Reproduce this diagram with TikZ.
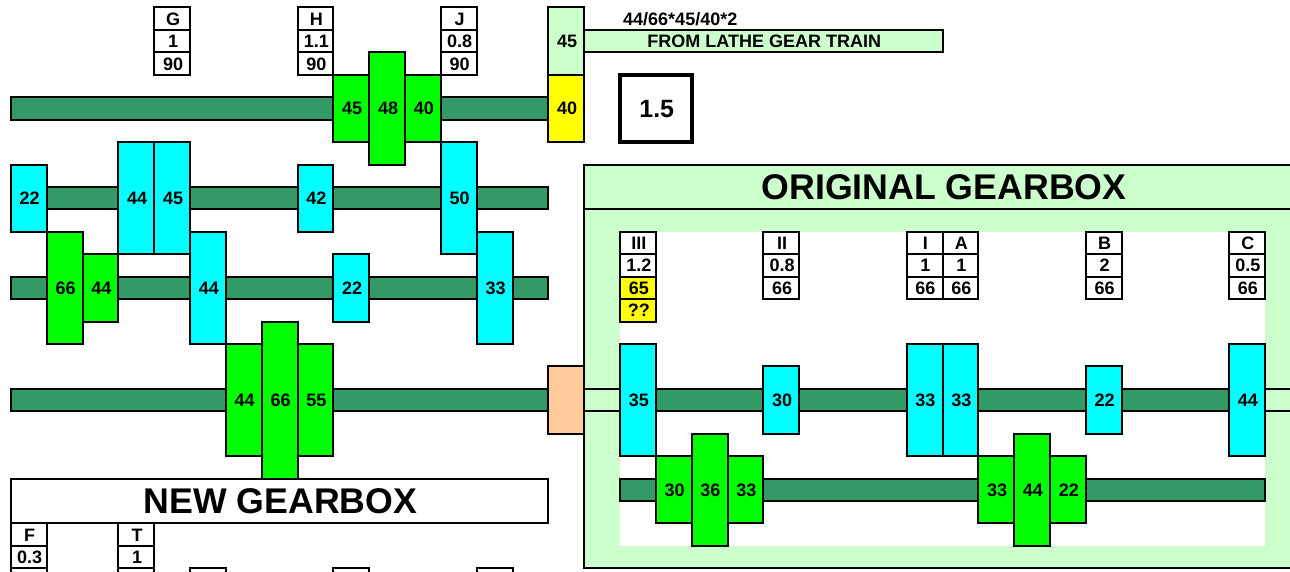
\documentclass[tikz,border=0pt]{standalone}
\usepackage{fontspec}
\setmainfont{Liberation Sans}
\definecolor{shaft}{HTML}{339966}
\definecolor{pale}{HTML}{CCFFCC}
\definecolor{cyang}{HTML}{00FFFF}
\definecolor{greeng}{HTML}{00FF00}
\definecolor{yell}{HTML}{FFFF00}
\definecolor{peach}{HTML}{FFCC99}
\tikzset{
  base/.style={draw=black,line width=2pt,inner sep=0pt,outer sep=0pt,rectangle,
    font=\fontsize{18}{18}\bfseries\selectfont,text height=13pt,text depth=0pt,align=center},
  shaftbar/.style={base,fill=shaft},
  palebar/.style={base,fill=pale},
  cyangear/.style={base,fill=cyang},
  greengear/.style={base,fill=greeng},
  yellowcell/.style={base,fill=yell},
  palegear/.style={base,fill=pale},
  peachcell/.style={base,fill=peach},
  tablecell/.style={base,fill=white},
  ratio/.style={base,fill=white,line width=4.2pt,font=\fontsize{25}{25}\bfseries\selectfont,text height=18pt},
  bigtitle/.style={base,font=\fontsize{35.7}{36}\bfseries\selectfont,text height=26pt},
  whitepanel/.style={rectangle,fill=white,draw=none,inner sep=0pt,outer sep=0pt},
  plainlabel/.style={inner sep=0pt,font=\fontsize{18}{18}\bfseries\selectfont}
}
% \cell{name}{col0}{row0}{col1}{row1}{style}{text}
\newcommand{\cell}[7]{%
  \pgfmathsetmacro{\cellxa}{11+35.83*#2}%
  \pgfmathsetmacro{\cellxb}{11+35.83*#4}%
  \pgfmathsetmacro{\cellya}{7.5+22.43*#3}%
  \pgfmathsetmacro{\cellyb}{7.5+22.43*#5}%
  \pgfmathsetmacro{\cellxm}{(\cellxa+\cellxb)/2}%
  \pgfmathsetmacro{\cellym}{(\cellya+\cellyb)/2}%
  \pgfmathsetmacro{\cellw}{\cellxb-\cellxa}%
  \pgfmathsetmacro{\cellh}{\cellyb-\cellya}%
  \node[#6,minimum width=\cellw pt,minimum height=\cellh pt] (#1) at (\cellxm,\cellym) {\hspace*{1.6pt}#7};%
}
\begin{document}
\begin{tikzpicture}[x=1pt,y=-1pt]
\useasboundingbox (0,0) rectangle (1290,572);
\clip (0,0) rectangle (1290,572);
% original gearbox frame
\cell{origframe}{16}{7}{37}{25}{palebar}{}
\cell{orighead}{16}{7}{37}{9}{palebar}{}
\cell{origpanel}{17}{10}{35}{24}{whitepanel}{}
\node[inner sep=0pt,font=\fontsize{35.7}{36}\bfseries\selectfont] (origtitle) at (944,187.5) {ORIGINAL GEARBOX};
% shafts
\cell{s1}{0}{4}{15}{5}{shaftbar}{}
\cell{s2}{0}{8}{15}{9}{shaftbar}{}
\cell{s3}{0}{12}{15}{13}{shaftbar}{}
\cell{s4}{0}{17}{15}{18}{shaftbar}{}
\cell{s5}{16}{17}{37}{18}{palebar}{}
\cell{s6}{17}{17}{35}{18}{shaftbar}{}
\cell{s7}{17}{21}{35}{22}{shaftbar}{}
% top input
\cell{lathe}{16}{1}{26}{2}{palebar}{FROM LATHE GEAR TRAIN}
\cell{in45}{15}{0}{16}{3}{palegear}{45}
\cell{in40}{15}{3}{16}{6}{yellowcell}{40}
\node[plainlabel,anchor=west] (formula) at (623,19) {44/66*45/40*2};
\cell{ratiobox}{17}{3}{19}{6}{ratio}{1.5}
% shaft 1 gears
\cell{g1a}{9}{3}{10}{6}{greengear}{45}
\cell{g1c}{11}{3}{12}{6}{greengear}{40}
\cell{g1b}{10}{2}{11}{7}{greengear}{48}
% shaft 2 gears
\cell{g2a}{0}{7}{1}{10}{cyangear}{22}
\cell{g2b}{3}{6}{4}{11}{cyangear}{44}
\cell{g2c}{4}{6}{5}{11}{cyangear}{45}
\cell{g2d}{8}{7}{9}{10}{cyangear}{42}
\cell{g2e}{12}{6}{13}{11}{cyangear}{50}
% shaft 3 gears
\cell{g3b}{2}{11}{3}{14}{greengear}{44}
\cell{g3a}{1}{10}{2}{15}{greengear}{66}
\cell{g3c}{5}{10}{6}{15}{cyangear}{44}
\cell{g3d}{9}{11}{10}{14}{cyangear}{22}
\cell{g3e}{13}{10}{14}{15}{cyangear}{33}
% shaft 4 gears
\cell{g4a}{6}{15}{7}{20}{greengear}{44}
\cell{g4c}{8}{15}{9}{20}{greengear}{55}
\cell{g4b}{7}{14}{8}{21}{greengear}{66}
\cell{coupler}{15}{16}{16}{19}{peachcell}{}
% new gearbox title
\cell{newtitle}{0}{21}{15}{23}{bigtitle,fill=white}{NEW GEARBOX}
% tables, new gearbox top
\cell{tg1}{4}{0}{5}{1}{tablecell}{G}
\cell{tg2}{4}{1}{5}{2}{tablecell}{1}
\cell{tg3}{4}{2}{5}{3}{tablecell}{90}
\cell{th1}{8}{0}{9}{1}{tablecell}{H}
\cell{th2}{8}{1}{9}{2}{tablecell}{1.1}
\cell{th3}{8}{2}{9}{3}{tablecell}{90}
\cell{tj1}{12}{0}{13}{1}{tablecell}{J}
\cell{tj2}{12}{1}{13}{2}{tablecell}{0.8}
\cell{tj3}{12}{2}{13}{3}{tablecell}{90}
% tables, new gearbox bottom
\cell{tf1}{0}{23}{1}{24}{tablecell}{F}
\cell{tf2}{0}{24}{1}{25}{tablecell}{0.3}
\cell{tf3}{0}{25}{1}{26}{tablecell}{}
\cell{tt1}{3}{23}{4}{24}{tablecell}{T}
\cell{tt2}{3}{24}{4}{25}{tablecell}{1}
\cell{tt3}{3}{25}{4}{26}{tablecell}{}
\cell{tx1}{5}{25}{6}{26}{tablecell}{}
\cell{tx2}{9}{25}{10}{26}{tablecell}{}
\cell{tx3}{13}{25}{14}{26}{tablecell}{}
% tables, original gearbox
\cell{t31}{17}{10}{18}{11}{tablecell}{III}
\cell{t32}{17}{11}{18}{12}{tablecell}{1.2}
\cell{t33}{17}{12}{18}{13}{yellowcell}{65}
\cell{t34}{17}{13}{18}{14}{yellowcell}{??}
\cell{t21}{21}{10}{22}{11}{tablecell}{II}
\cell{t22}{21}{11}{22}{12}{tablecell}{0.8}
\cell{t23}{21}{12}{22}{13}{tablecell}{66}
\cell{ti1}{25}{10}{26}{11}{tablecell}{I}
\cell{ti2}{25}{11}{26}{12}{tablecell}{1}
\cell{ti3}{25}{12}{26}{13}{tablecell}{66}
\cell{ta1}{26}{10}{27}{11}{tablecell}{A}
\cell{ta2}{26}{11}{27}{12}{tablecell}{1}
\cell{ta3}{26}{12}{27}{13}{tablecell}{66}
\cell{tb1}{30}{10}{31}{11}{tablecell}{B}
\cell{tb2}{30}{11}{31}{12}{tablecell}{2}
\cell{tb3}{30}{12}{31}{13}{tablecell}{66}
\cell{tc1}{34}{10}{35}{11}{tablecell}{C}
\cell{tc2}{34}{11}{35}{12}{tablecell}{0.5}
\cell{tc3}{34}{12}{35}{13}{tablecell}{66}
% original gearbox upper gears
\cell{o1}{17}{15}{18}{20}{cyangear}{35}
\cell{o2}{21}{16}{22}{19}{cyangear}{30}
\cell{o3}{25}{15}{26}{20}{cyangear}{33}
\cell{o4}{26}{15}{27}{20}{cyangear}{33}
\cell{o5}{30}{16}{31}{19}{cyangear}{22}
\cell{o6}{34}{15}{35}{20}{cyangear}{44}
% original gearbox lower gears
\cell{l1}{18}{20}{19}{23}{greengear}{30}
\cell{l3}{20}{20}{21}{23}{greengear}{33}
\cell{l2}{19}{19}{20}{24}{greengear}{36}
\cell{l4}{27}{20}{28}{23}{greengear}{33}
\cell{l6}{29}{20}{30}{23}{greengear}{22}
\cell{l5}{28}{19}{29}{24}{greengear}{44}
\end{tikzpicture}
\end{document}
